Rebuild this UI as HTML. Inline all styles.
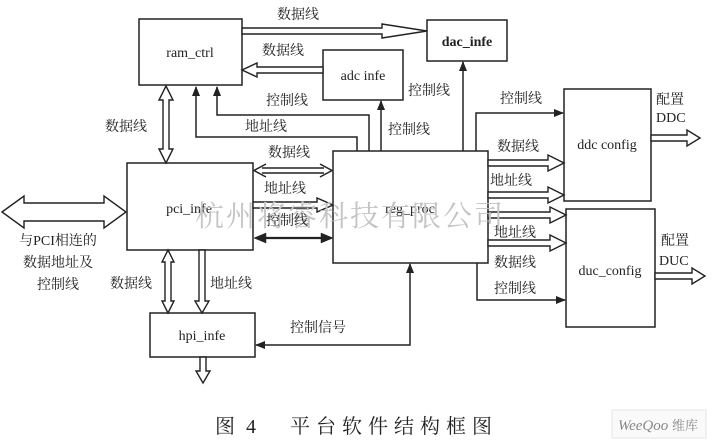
<!DOCTYPE html>
<html><head><meta charset="utf-8"><style>
html,body{margin:0;padding:0;background:#fff;}
svg{display:block;}
text{font-family:"Liberation Serif","Noto Serif CJK SC",serif;fill:#222;}
</style></head><body>
<svg width="714" height="442" viewBox="0 0 714 442" xmlns="http://www.w3.org/2000/svg">
<defs>
<marker id="ah" markerWidth="10" markerHeight="10" refX="9" refY="5" orient="auto" markerUnits="userSpaceOnUse"><path d="M0,1 L10,5 L0,9 Z" fill="#222"/></marker>
</defs>
<g fill="none" stroke="#222" stroke-width="1.5">
<rect x="139" y="19" width="103" height="66"/>
<rect x="427" y="20" width="80" height="41"/>
<rect x="323" y="50" width="80" height="50"/>
<rect x="127" y="163" width="126" height="87"/>
<rect x="333" y="151" width="155" height="112"/>
<rect x="564" y="89" width="87" height="112"/>
<rect x="566" y="209" width="89" height="118"/>
<rect x="150" y="313" width="105" height="44"/>
</g>
<g font-size="14" text-anchor="middle">
<text x="190" y="57">ram_ctrl</text>
<text x="467" y="46" font-weight="bold">dac_infe</text>
<text x="363" y="80">adc infe</text>
<text x="189" y="213">pci_infe</text>
<text x="410" y="213">reg_proc</text>
<text x="607" y="149">ddc config</text>
<text x="610" y="275">duc_config</text>
<text x="202" y="340">hpi_infe</text>
</g>
<g fill="#fff" stroke="#222" stroke-width="1.4">
<polygon points="242,28 382,28 382,24 427,31 382,38 382,34 242,34"/>
<polygon points="323,67 257,67 257,63 242,70 257,77 257,73 323,73"/>
<polygon points="166,86 173,100 169,100 169,149 173,149 166,163 159,149 163,149 163,100 159,100"/>
<polygon points="253,202 317,202 317,198 333,205 317,212 317,208 253,208"/>
<polygon points="2,212 24,196 24,203 104,203 104,196 126,212 104,228 104,221 24,221 24,228"/>
<polygon points="168,250 174,262 171,262 171,301 174,301 168,313 162,301 165,301 165,262 162,262"/>
<polygon points="199,250 205,250 205,301 209,301 202,313 195,301 199,301"/>
<polygon points="200,357 206,357 206,371 210,371 203,383 196,371 200,371"/>
<polygon points="488,160 548,160 548,155 564,163 548,171 548,166 488,166"/>
<polygon points="488,192 548,192 548,187 564,195 548,203 548,198 488,198"/>
<polygon points="488,212 550,212 550,207 566,215 550,223 550,218 488,218"/>
<polygon points="488,240 550,240 550,235 566,243 550,251 550,246 488,246"/>
<polygon points="651,135 687,135 687,130 700,138 687,146 687,141 651,141"/>
<polygon points="655,273 692,273 692,268 705,276 692,284 692,279 655,279"/>
</g>
<g fill="none" stroke="#222" stroke-width="1.5">
<polyline points="369,151 369,115 217,115 217,87" marker-end="url(#ah)"/>
<polyline points="357,151 357,137 196,137 196,87" marker-end="url(#ah)"/>
<polyline points="381,151 381,101" marker-end="url(#ah)"/>
<polyline points="463,151 463,62" marker-end="url(#ah)"/>
<polyline points="476,151 476,113 563,113" marker-end="url(#ah)"/>
<polyline points="477,263 477,300 565,300" marker-end="url(#ah)"/>
<polyline points="410,275 410,345 265,345"/>
<polyline points="410,275 410,264" marker-end="url(#ah)"/>
<polyline points="265,345 256,345" marker-end="url(#ah)"/>
<line x1="262" y1="168" x2="324" y2="168"/>
<line x1="262" y1="173" x2="324" y2="173"/>
<polyline points="266,164 254,170.5 266,177"/>
<polyline points="320,164 332,170.5 320,177"/>
</g>
<g stroke="#222" stroke-width="2.2" fill="#222">
<line x1="262" y1="238" x2="324" y2="238"/>
<polygon points="254,238 266,233 266,243" stroke-width="0.5"/>
<polygon points="333,238 321,233 321,243" stroke-width="0.5"/>
</g>
<text x="195" y="226" font-size="29" style="fill:#c4c4c4" letter-spacing="2">杭州将睿科技有限公司</text>
<g font-size="14">
<text x="277" y="19">数据线</text>
<text x="262" y="55">数据线</text>
<text x="105" y="131">数据线</text>
<text x="266" y="105">控制线</text>
<text x="245" y="131">地址线</text>
<text x="388" y="134">控制线</text>
<text x="408" y="95">控制线</text>
<text x="268" y="157">数据线</text>
<text x="264" y="193">地址线</text>
<text x="266" y="225">控制线</text>
<text x="500" y="103">控制线</text>
<text x="497" y="151">数据线</text>
<text x="490" y="185">地址线</text>
<text x="494" y="237">地址线</text>
<text x="494" y="267">数据线</text>
<text x="494" y="293">控制线</text>
<text x="656" y="104">配置</text>
<text x="656" y="122">DDC</text>
<text x="661" y="245">配置</text>
<text x="659" y="265">DUC</text>
<text x="110" y="288">数据线</text>
<text x="210" y="288">地址线</text>
<text x="290" y="332">控制信号</text>
<text x="58" y="245" text-anchor="middle">与PCI相连的</text>
<text x="58" y="267" text-anchor="middle">数据地址及</text>
<text x="58" y="289" text-anchor="middle">控制线</text>
</g>
<text x="215" y="433" font-size="20" letter-spacing="3">图 4</text>
<text x="290" y="433" font-size="20" letter-spacing="6">平台软件结构框图</text>
<rect x="612" y="410" width="94" height="28" fill="#fafafa" stroke="#e4e4e4"/>
<text x="618" y="430" font-size="15" font-style="italic" style="fill:#888">WeeQoo</text>
<text x="672" y="430" font-size="13" style="fill:#888">维库</text>
</svg>
</body></html>
